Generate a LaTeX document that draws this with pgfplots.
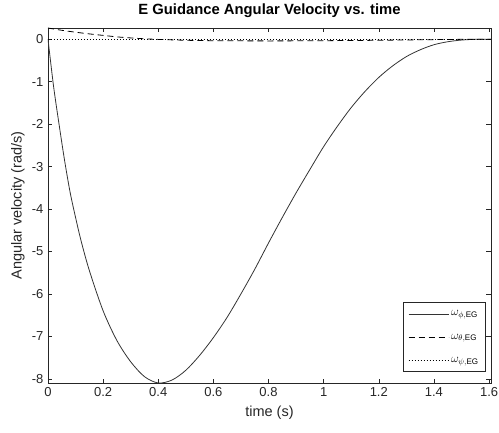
\documentclass[border=0pt]{standalone}
\usepackage{fontspec}
\setmainfont{Liberation Sans}
\usepackage{pgfplots}
\pgfplotsset{compat=1.18}
\definecolor{axgray}{gray}{0.15}
\begin{document}
\begin{tikzpicture}
\path[use as bounding box] (-48pt,-49pt) rectangle (451pt,383pt);
\begin{axis}[
  at={(0pt,0pt)}, anchor=south west,
  scale only axis, width=443pt, height=355pt,
  xmin=0, xmax=1.607, ymin=-8.1, ymax=0.264,
  axis line style={axgray, line width=0.5pt},
  tick style={axgray, line width=0.5pt},
  tick align=inside, tick pos=both,
  major tick length=4.5pt,
  xtick={0,0.2,0.4,0.6,0.8,1,1.2,1.4,1.6},
  xticklabels={0,0.2,0.4,0.6,0.8,1,1.2,1.4,1.6},
  ytick={-8,-7,-6,-5,-4,-3,-2,-1,0},
  yticklabels={-8,-7,-6,-5,-4,-3,-2,-1,0},
  ticklabel style={font=\fontsize{13}{15}\selectfont, text=axgray},
  xticklabel style={yshift=-1pt},
  yticklabel style={xshift=-1pt},
  xlabel={time (s)},
  ylabel={Angular velocity (rad/s)},
  xlabel style={at={(axis description cs:0.5,-0.085)}, anchor=center, font=\fontsize{14.5}{16}\selectfont, text=axgray},
  ylabel style={at={(axis description cs:-0.068,0.5)}, anchor=center, font=\fontsize{14.5}{16}\selectfont, text=axgray},
  every axis title shift=0pt,
  title={E Guidance Angular Velocity vs. time},
  title style={at={(axis description cs:0.5,1.048)}, anchor=center, font=\bfseries\fontsize{14.8}{16}\selectfont},
  legend style={at={(axis description cs:0.9887,0.031)}, anchor=south east,
    draw=axgray, line width=0.5pt, font=\fontsize{11.5}{12}\selectfont,
    inner xsep=5pt, inner ysep=6pt, row sep=12.5pt, cells={anchor=west}},
  legend image code/.code={\draw[#1] (0pt,0pt) -- (40pt,0pt);},
  every axis plot/.append style={line width=0.8pt},
]
\addplot[color=black!80, solid, smooth] coordinates {
(0,0) (0.02,-1.1) (0.04,-2.0) (0.06,-2.85) (0.08,-3.6) (0.1,-4.2) (0.12,-4.75)
(0.15,-5.45) (0.2,-6.4) (0.25,-7.1) (0.3,-7.6) (0.35,-7.95) (0.4,-8.1)
(0.45,-8.03) (0.5,-7.8) (0.55,-7.45) (0.6,-7.03) (0.65,-6.55) (0.7,-6.0)
(0.75,-5.42) (0.8,-4.8) (0.85,-4.2) (0.9,-3.62) (0.95,-3.07) (1.0,-2.53)
(1.05,-2.05) (1.1,-1.61) (1.15,-1.23) (1.2,-0.90) (1.25,-0.63) (1.3,-0.41)
(1.35,-0.25) (1.4,-0.13) (1.45,-0.06) (1.5,-0.02) (1.55,-0.003) (1.607,0)
};
\addlegendentry{$\omega_{\phi,\mathrm{EG}}$}
\addplot[color=black, dash pattern=on 6pt off 4pt, smooth] coordinates {
(0,0.264) (0.05,0.21) (0.1,0.165) (0.15,0.125) (0.2,0.09) (0.25,0.055)
(0.3,0.03) (0.35,0.01) (0.4,-0.005) (0.5,-0.025) (0.6,-0.035) (0.8,-0.04)
(1.0,-0.035) (1.2,-0.025) (1.4,-0.01) (1.5,-0.003) (1.607,0)
};
\addlegendentry{$\omega_{\theta,\mathrm{EG}}$}
\addplot[color=black, dash pattern=on 0.8pt off 2.2pt] coordinates {
(0,0) (0.4,0) (0.8,0) (1.2,0) (1.607,0)
};
\addlegendentry{$\omega_{\psi,\mathrm{EG}}$}
\end{axis}
\end{tikzpicture}
\end{document}
